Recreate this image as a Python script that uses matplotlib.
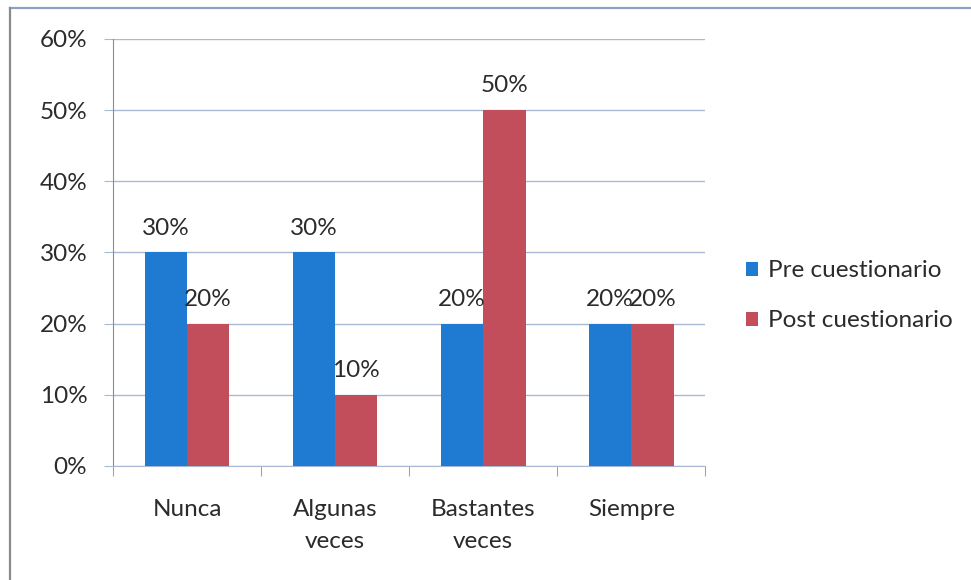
import numpy as np
import matplotlib.pyplot as plt
from matplotlib.lines import Line2D
from matplotlib.ticker import FixedLocator, PercentFormatter

# Data
categories = ["Nunca", "Algunas\nveces", "Bastantes\nveces", "Siempre"]
series_names = ["Pre cuestionario", "Post cuestionario"]
pre_values = [30, 30, 20, 20]
post_values = [20, 10, 50, 20]

blue = "#1f7ad2"
red = "#c24e5c"
grid_color = "#a9b9d3"
text_color = "#2b2b2b"
fs = 17.5

plt.rcParams["font.family"] = ["Lato", "DejaVu Sans"]

fig = plt.figure(figsize=(9.71, 5.8), dpi=100)
fig.patch.set_facecolor("white")

# the scanned frame: only top and left edges are visible
fig.add_artist(Line2D([0.0105, 1.0], [0.986, 0.986], color="#8ea3c2", lw=1.6))
fig.add_artist(Line2D([0.0105, 0.0105], [0.0, 0.986], color="#8a8a8a", lw=1.6))

ax = fig.add_axes([0.1164, 0.1966, 0.61, 0.7362])

x = np.arange(len(categories))
w = 1 / 3.5  # gap width 150%

bars_pre = ax.bar(x - w / 2, pre_values, w, color=blue, label=series_names[0], zorder=3)
bars_post = ax.bar(x + w / 2, post_values, w, color=red, label=series_names[1], zorder=3)

# value labels above every bar
for bars in (bars_pre, bars_post):
    for b in bars:
        h = b.get_height()
        ax.annotate(f"{h:.0f}%", (b.get_x() + b.get_width() / 2, h),
                    xytext=(0, 10), textcoords="offset points",
                    ha="center", va="bottom", fontsize=fs, color=text_color)

ax.set_xlim(-0.5, len(categories) - 0.5)
ax.set_ylim(0, 60)
ax.yaxis.set_major_locator(FixedLocator([0, 10, 20, 30, 40, 50, 60]))
ax.yaxis.set_major_formatter(PercentFormatter(decimals=0))
ax.grid(axis="y", color=grid_color, lw=1, zorder=0)

# category labels in the middle, tick marks at the boundaries
ax.set_xticks(x)
ax.set_xticklabels(categories, fontsize=fs, color=text_color, linespacing=1.65)
ax.tick_params(axis="x", which="major", length=0, pad=23.5)
ax.xaxis.set_minor_locator(FixedLocator(np.arange(-0.5, len(categories), 1.0)))
ax.tick_params(axis="x", which="minor", length=7, color="#8c8c8c", direction="out")
ax.tick_params(axis="y", length=6.5, color=grid_color, labelsize=fs, labelcolor=text_color, pad=12)

for side in ("top", "right"):
    ax.spines[side].set_visible(False)
ax.spines["left"].set_color("#8c8c8c")
ax.spines["bottom"].set_color(grid_color)

leg = fig.legend(loc="center left", bbox_to_anchor=(0.746, 0.49), frameon=False,
                 fontsize=fs, handlelength=0.5, handleheight=0.5, handletextpad=0.4,
                 labelspacing=1.2)
for t in leg.get_texts():
    t.set_color(text_color)

fig.savefig("out.png", dpi=100)
